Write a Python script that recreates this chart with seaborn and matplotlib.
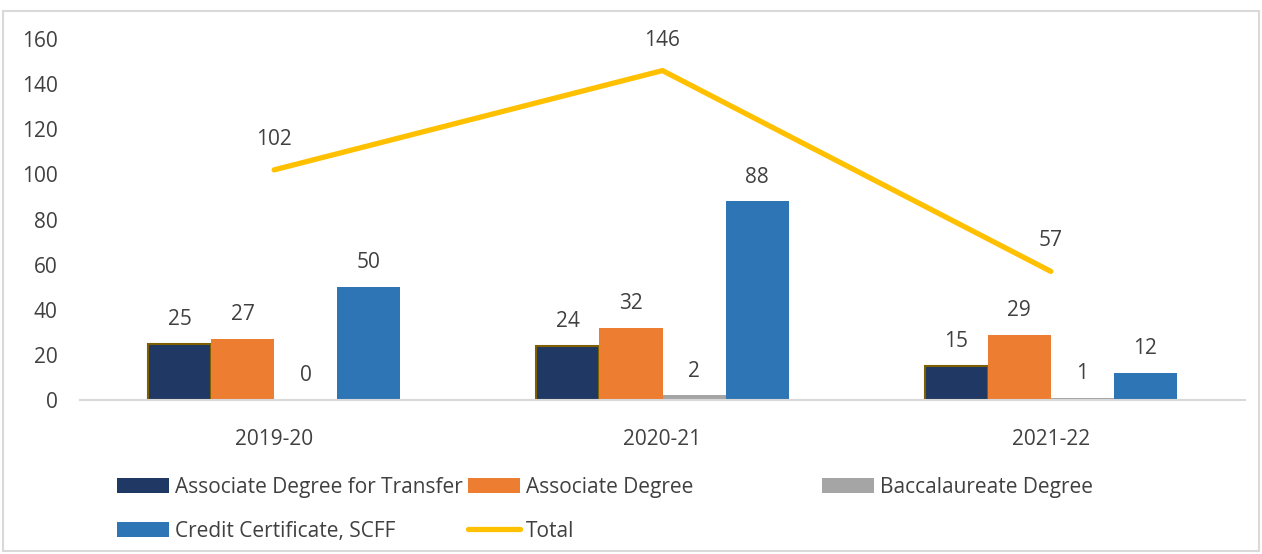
"""Awards by type, 2019-20 to 2021-22: grouped bars with a total line."""

import matplotlib
import numpy as np
import pandas as pd
import seaborn as sns

matplotlib.use("Agg")
import matplotlib.pyplot as plt
from matplotlib.patches import Rectangle

years = ["2019-20", "2020-21", "2021-22"]
award_types = [
    "Associate Degree for Transfer",
    "Associate Degree",
    "Baccalaureate Degree",
    "Credit Certificate, SCFF",
]
adt_counts = [25, 24, 15]
assoc_counts = [27, 32, 29]
bacc_counts = [0, 2, 1]
credit_counts = [50, 88, 12]
total_counts = [102, 146, 57]

colors = ["#203864", "#ED7D31", "#A5A5A5", "#2E75B6"]
line_color = "#FFC000"
text_color = "#404040"
font_size = 15

sns.set_theme(style="white")
plt.rcParams["font.family"] = ["Open Sans", "DejaVu Sans"]

rows = []
for award, counts in zip(award_types, [adt_counts, assoc_counts, bacc_counts, credit_counts]):
    for year, value in zip(years, counts):
        rows.append({"year": year, "award": award, "count": value})
frame = pd.DataFrame(rows)

fig = plt.figure(figsize=(12.62, 5.54), dpi=100)
ax = fig.add_axes([80 / 1262, 1 - 400 / 554, 1165 / 1262, 361 / 554])

sns.barplot(
    data=frame,
    x="year",
    y="count",
    hue="award",
    hue_order=award_types,
    palette=colors,
    saturation=1,
    width=0.65,
    linewidth=0,
    ax=ax,
)
for patch in ax.containers[0].patches:
    patch.set_edgecolor("#7F6000")
    patch.set_linewidth(1.5)

for container in ax.containers:
    ax.bar_label(container, padding=10, fontsize=font_size, color=text_color)

positions = np.arange(len(years))
sns.lineplot(
    x=positions,
    y=total_counts,
    color=line_color,
    linewidth=3.8,
    solid_capstyle="round",
    label="Total",
    ax=ax,
)
for pos, value in zip(positions, total_counts):
    ax.annotate(
        str(value),
        (pos, value),
        xytext=(0, 22),
        textcoords="offset points",
        ha="center",
        va="center",
        fontsize=font_size,
        color=text_color,
    )

ax.set_xlim(-0.5, len(years) - 0.5)
ax.set_ylim(0, 160)
ax.set_yticks(range(0, 161, 20))
ax.set_xlabel("")
ax.set_ylabel("")
ax.tick_params(axis="both", length=0, labelsize=font_size, labelcolor=text_color)
ax.tick_params(axis="y", pad=16)
ax.tick_params(axis="x", pad=21)
for side in ["top", "right", "left"]:
    ax.spines[side].set_visible(False)
ax.spines["bottom"].set_color("#D9D9D9")
ax.spines["bottom"].set_linewidth(1.5)

handles, labels = ax.get_legend_handles_labels()
ax.legend_.remove()
lookup = dict(zip(labels, handles))
columns = [
    (117, ["Associate Degree for Transfer", "Credit Certificate, SCFF"]),
    (468, ["Associate Degree", "Total"]),
    (822, ["Baccalaureate Degree"]),
]
for x_px, names in columns:
    legend = fig.legend(
        [lookup[n] for n in names],
        names,
        loc="upper left",
        bbox_to_anchor=(x_px / 1262, 1 - 477 / 554),
        frameon=False,
        fontsize=font_size,
        handlelength=2.5,
        handleheight=0.75,
        handletextpad=0.3,
        labelspacing=1.1,
        borderpad=0,
        borderaxespad=0,
        labelcolor=text_color,
    )

fig.add_artist(
    Rectangle(
        (3 / 1262, 3 / 554),
        1256 / 1262,
        540 / 554,
        transform=fig.transFigure,
        fill=False,
        edgecolor="#D9D9D9",
        linewidth=1.5,
    )
)

fig.savefig("out.png", dpi=100)
plt.close(fig)
